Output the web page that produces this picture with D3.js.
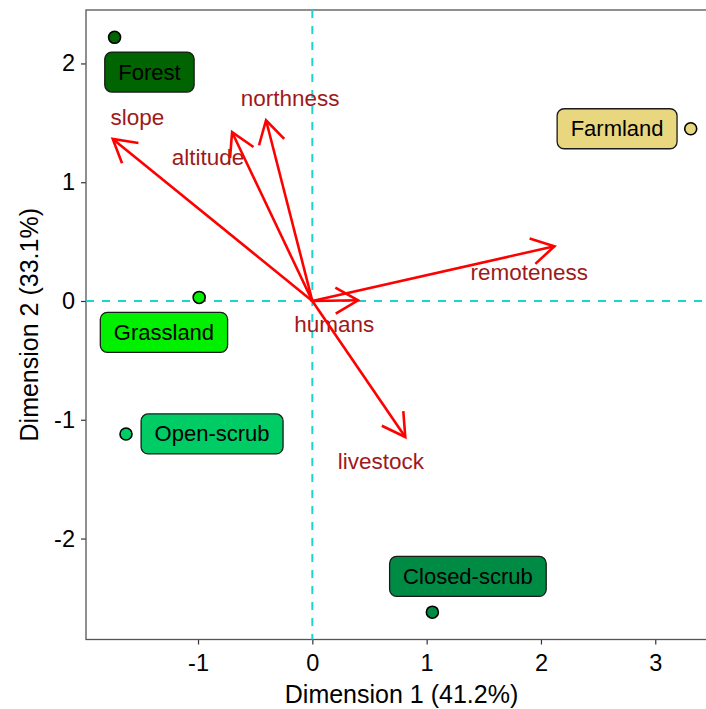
<!DOCTYPE html>
<html>
<head>
<meta charset="utf-8">
<script src="https://cdn.jsdelivr.net/npm/d3@7"></script>
<style>
  html, body { margin: 0; padding: 0; background: #fff; }
  svg { display: block; font-family: "Liberation Sans", Arial, Helvetica, sans-serif; }
</style>
</head>
<body>
<svg id="chart" width="706" height="709"></svg>
<script>
// ---- data ----
const habitats      = ["Forest", "Farmland", "Grassland", "Open-scrub", "Closed-scrub"];
const habitatDim1   = [-1.73, 3.31, -0.99, -1.63, 1.05];
const habitatDim2   = [2.22, 1.45, 0.03, -1.12, -2.62];
const labelDim1     = [-1.425, 2.666, -1.298, -0.877, 1.361];
const labelDim2     = [1.927, 1.45, -0.264, -1.119, -2.319];
const habitatColors = ["#006400", "#E9D77F", "#00F000", "#00CC66", "#008B45"];

const variables     = ["slope", "altitude", "northness", "remoteness", "humans", "livestock"];
const varDim1       = [-1.746, -0.702, -0.405, 2.118, 0.40, 0.813];
const varDim2       = [1.364, 1.421, 1.522, 0.461, 0.006, -1.145];
const varLabelDim1  = [-1.531, -0.913, -0.195, 1.897, 0.192, 0.600];
const varLabelDim2  = [1.545, 1.208, 1.705, 0.242, -0.201, -1.349];

const xTicks = [-1, 0, 1, 2, 3];
const yTicks = [-2, -1, 0, 1, 2];
const xTitle = "Dimension 1 (41.2%)";
const yTitle = "Dimension 2 (33.1%)";

// ---- layout ----
const svg = d3.select("#chart");
const pLeft = 86, pRight = 717, pTop = 10, pBottom = 639.5;

const x = d3.scaleLinear().domain([-1.98, 3.54]).range([pLeft, pRight]);
const y = d3.scaleLinear().domain([-2.85, 2.45]).range([pBottom, pTop]);

// axes
const xAxis = svg.append("g").attr("transform", `translate(0,${pBottom})`)
  .call(d3.axisBottom(x).tickValues(xTicks).tickSize(5).tickSizeOuter(0).tickPadding(5)
        .tickFormat(d => d < 0 ? "-" + Math.abs(d) : String(d)));
const yAxis = svg.append("g").attr("transform", `translate(${pLeft},0)`)
  .call(d3.axisLeft(y).tickValues(yTicks).tickSize(5).tickSizeOuter(0).tickPadding(6)
        .tickFormat(d => d < 0 ? "-" + Math.abs(d) : String(d)));
[xAxis, yAxis].forEach(a => {
  a.select(".domain").remove();
  a.selectAll(".tick line").attr("stroke", "#333").attr("stroke-width", 1.2);
  a.selectAll(".tick text").attr("fill", "#000").style("font-size", "23.5px")
    .style("font-family", "'Liberation Sans', Arial, sans-serif");
});
xAxis.selectAll(".tick text").attr("dy", "0.9em");

// panel border
svg.append("rect").attr("x", pLeft).attr("y", pTop)
  .attr("width", pRight - pLeft).attr("height", pBottom - pTop)
  .attr("fill", "none").attr("stroke", "#555").attr("stroke-width", 1.3);

// reference lines
const refColor = "#1ED2D2";
svg.append("line").attr("x1", x(0)).attr("x2", x(0)).attr("y1", pTop).attr("y2", pBottom)
  .attr("stroke", refColor).attr("stroke-width", 2).attr("stroke-dasharray", "8,8");
svg.append("line").attr("x1", pLeft).attr("x2", pRight).attr("y1", y(0)).attr("y2", y(0))
  .attr("stroke", refColor).attr("stroke-width", 2).attr("stroke-dasharray", "8,8");

// variable labels
const vars = variables.map((v, i) => ({name: v, x: varDim1[i], y: varDim2[i], lx: varLabelDim1[i], ly: varLabelDim2[i]}));
svg.append("g").selectAll("text").data(vars).join("text")
  .attr("x", d => x(d.lx)).attr("y", d => y(d.ly))
  .attr("text-anchor", "middle").attr("dominant-baseline", "central")
  .attr("fill", "#9E1A1A").style("font-size", "22.5px")
  .text(d => d.name);

// arrows
const arrowG = svg.append("g").attr("stroke", "#FF0000").attr("stroke-width", 2.6)
  .attr("fill", "none").attr("stroke-linecap", "butt");
const headLen = 26, headAng = Math.PI / 6;
vars.forEach(d => {
  const x0 = x(0), y0 = y(0), x1 = x(d.x), y1 = y(d.y);
  arrowG.append("line").attr("x1", x0).attr("y1", y0).attr("x2", x1).attr("y2", y1);
  const ang = Math.atan2(y1 - y0, x1 - x0);
  const p1 = [x1 - headLen * Math.cos(ang - headAng), y1 - headLen * Math.sin(ang - headAng)];
  const p2 = [x1 - headLen * Math.cos(ang + headAng), y1 - headLen * Math.sin(ang + headAng)];
  arrowG.append("path").attr("d", `M${p1[0]},${p1[1]}L${x1},${y1}L${p2[0]},${p2[1]}`)
    .attr("stroke-linejoin", "miter");
});

// habitat points
const habs = habitats.map((h, i) => ({name: h, x: habitatDim1[i], y: habitatDim2[i], lx: labelDim1[i], ly: labelDim2[i], c: habitatColors[i]}));
svg.append("g").selectAll("circle").data(habs).join("circle")
  .attr("cx", d => x(d.x)).attr("cy", d => y(d.y)).attr("r", 6)
  .attr("fill", d => d.c).attr("stroke", "#000").attr("stroke-width", 1.6);

// habitat labels
const lab = svg.append("g").selectAll("g").data(habs).join("g")
  .attr("transform", d => `translate(${x(d.lx)},${y(d.ly)})`);
lab.append("rect").attr("class", "bx");
lab.append("text").attr("text-anchor", "middle").attr("dominant-baseline", "central")
  .attr("fill", "#000").style("font-size", "22px").text(d => d.name);
lab.each(function() {
  const g = d3.select(this);
  const w = g.select("text").node().getComputedTextLength() + 27;
  const h = 40;
  g.select("rect").attr("x", -w / 2).attr("y", -h / 2).attr("width", w).attr("height", h)
    .attr("rx", 7).attr("ry", 7)
    .attr("fill", d => d.c).attr("stroke", "#1a1a1a").attr("stroke-width", 1.3);
});

// axis titles
svg.append("text").attr("x", (pLeft + pRight) / 2).attr("y", 703)
  .attr("text-anchor", "middle").attr("fill", "#000").style("font-size", "25px")
  .text(xTitle);
svg.append("text").attr("transform", `translate(38,${(pTop + pBottom) / 2}) rotate(-90)`)
  .attr("text-anchor", "middle").attr("fill", "#000").style("font-size", "25px")
  .text(yTitle);
</script>
</body>
</html>
